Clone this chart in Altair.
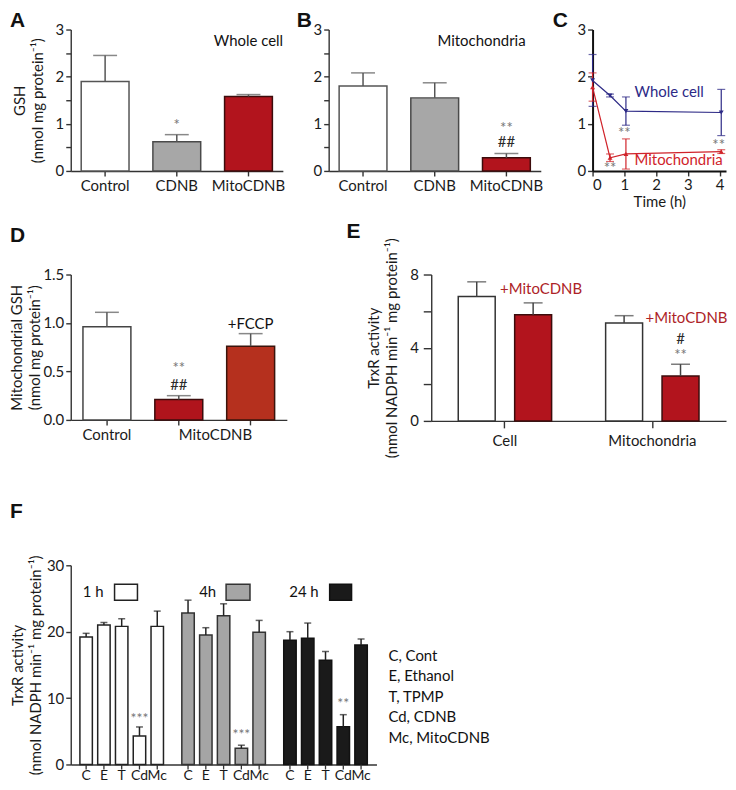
import altair as alt
import pandas as pd

FONT = "Lato"
LETTER_FONT = "Liberation Sans"

# ---------------- data ----------------
a_cat = ["Control", "CDNB", "MitoCDNB"]
a_mean = [1.90, 0.62, 1.58]
a_sem = [0.55, 0.15, 0.04]

b_cat = ["Control", "CDNB", "MitoCDNB"]
b_mean = [1.80, 1.55, 0.28]
b_sem = [0.28, 0.32, 0.09]

c_series = ["Whole cell", "Mitochondria"]
c_time = [0, 0.55, 1.05, 4.05]
c_whole = [1.92, 1.60, 1.27, 1.24]
c_whole_sem = [0.55, 0.03, 0.30, 0.49]
c_mito = [1.78, 0.28, 0.36, 0.41]
c_mito_sem = [0.30, 0.08, 0.32, 0.04]

d_cat = ["Control", "MitoCDNB", "MitoCDNB+FCCP"]
d_mean = [0.96, 0.21, 0.76]
d_sem = [0.15, 0.04, 0.13]

e_group = ["Cell", "Cell", "Mitochondria", "Mitochondria"]
e_treat = ["Control", "+MitoCDNB", "Control", "+MitoCDNB"]
e_mean = [6.8, 5.8, 5.35, 2.45]
e_sem = [0.8, 0.65, 0.4, 0.65]

f_time = ["1 h", "4h", "24 h"]
f_treat = ["C", "E", "T", "Cd", "Mc"]
f_1h = [19.2, 21.0, 20.8, 4.3, 20.8]
f_1h_sem = [0.55, 0.4, 1.15, 1.35, 2.3]
f_4h = [22.8, 19.5, 22.4, 2.45, 19.9]
f_4h_sem = [1.95, 1.1, 1.8, 0.45, 1.8]
f_24h = [18.7, 19.0, 15.7, 5.7, 18.0]
f_24h_sem = [1.3, 2.3, 1.3, 1.8, 0.9]
f_key = ["C, Cont", "E, Ethanol", "T, TPMP", "Cd, CDNB", "Mc, MitoCDNB"]

# ---------------- styles ----------------
RED = "#b2141d"
RED_STROKE = "#3c0c0c"
GREY = "#a7a7a7"
BLUE = "#2d2a86"
CRED = "#d0232a"
STAR = "#777777"
DARK = "#2a2a2a"
INT_LABELS = "datum.value % 1 == 0 ? format(datum.value, 'd') : ''"


def letter(ch, dx, dy):
    return alt.Chart(pd.DataFrame({"k": [0]})).mark_text(
        font=LETTER_FONT, fontWeight="bold", fontSize=21, align="left",
        baseline="alphabetic", color="#111"
    ).encode(text=alt.value(ch), x=alt.value(dx), y=alt.value(dy))


def note(df, x, y, text, color, size=15, dx=0, xo=None):
    enc = dict(x=x, y=y, text=text)
    if xo is not None:
        enc["xOffset"] = xo
    return alt.Chart(df).mark_text(font=FONT, fontSize=size, color=color, dx=dx,
                                   baseline="middle").encode(**enc)


def simple_bars(cats, mean, sem, fills, strokes, ymax, yvals, lab_expr, fmt,
                ytitle, pin, pout, title_pad, xaxis_kw=None):
    df = pd.DataFrame({"cat": cats, "mean": mean,
                       "hi": [m + s for m, s in zip(mean, sem)]})
    ax_kw = dict(labelAngle=0, tickSize=5, labelPadding=3, title=None)
    if xaxis_kw:
        ax_kw.update(xaxis_kw)
    x = alt.X("cat:N", sort=cats, title=None,
              scale=alt.Scale(type="band", paddingInner=pin, paddingOuter=pout),
              axis=alt.Axis(**ax_kw))
    y_kw = dict(values=yvals, title=ytitle, titlePadding=title_pad, tickSize=5, labelPadding=2)
    if lab_expr:
        y_kw["labelExpr"] = lab_expr
    if fmt:
        y_kw["format"] = fmt
    yax = alt.Axis(**y_kw)
    ysc = alt.Scale(domain=[0, ymax], nice=False)
    bars = alt.Chart(df).mark_bar(strokeWidth=1.5).encode(
        x=x, y=alt.Y("mean:Q", scale=ysc, axis=yax),
        fill=alt.Fill("cat:N", scale=alt.Scale(domain=cats, range=fills), legend=None),
        stroke=alt.Stroke("cat:N", scale=alt.Scale(domain=cats, range=strokes), legend=None),
    )
    err = alt.Chart(df).mark_rule(color="#555", strokeWidth=1.5).encode(
        x=x, y=alt.Y("mean:Q", scale=ysc, axis=yax), y2="hi:Q")
    cap = alt.Chart(df).mark_tick(color="#555", thickness=1.5, size=24).encode(
        x=x, y=alt.Y("hi:Q", scale=ysc, axis=yax))
    return df, x, ysc, yax, [bars, err, cap]


def indep(c):
    return c.resolve_scale(fill="independent", stroke="independent",
                           color="independent", shape="independent",
                           xOffset="independent")


# ---------------- Panel A ----------------
W_AB, H1 = 213, 142
dfA, xA, ysA, yaA, layA = simple_bars(
    a_cat, a_mean, a_sem, ["#ffffff", GREY, RED], ["#555555", "#4a4a4a", RED_STROKE],
    3, [0, 0.5, 1, 1.5, 2, 2.5, 3], INT_LABELS, None,
    ["GSH", "(nmol mg protein⁻¹)"], 0.333, 0.146, 10)
a_star = pd.DataFrame({"cat": ["CDNB"], "y": [0.98], "t": ["*"]})
a_lab = pd.DataFrame({"cat": ["MitoCDNB"], "y": [2.75], "t": ["Whole cell"]})
panelA = alt.layer(
    *layA,
    note(a_star, xA, alt.Y("y:Q", scale=ysA, axis=yaA), "t:N", STAR),
    note(a_lab, xA, alt.Y("y:Q", scale=ysA, axis=yaA), "t:N", "#111"),
    letter("A", -61, -3),
).properties(width=W_AB, height=H1)

# ---------------- Panel B ----------------
dfB, xB, ysB, yaB, layB = simple_bars(
    b_cat, b_mean, b_sem, ["#ffffff", GREY, RED], ["#555555", "#4a4a4a", RED_STROKE],
    3, [0, 0.5, 1, 1.5, 2, 2.5, 3], INT_LABELS, None,
    None, 0.333, 0.146, 10)
b_star = pd.DataFrame({"cat": ["MitoCDNB"], "y": [0.92], "t": ["**"]})
b_hash = pd.DataFrame({"cat": ["MitoCDNB"], "y": [0.61], "t": ["##"]})
b_lab = pd.DataFrame({"cat": ["MitoCDNB"], "y": [2.75], "t": ["Mitochondria"]})
panelB = alt.layer(
    *layB,
    note(b_star, xB, alt.Y("y:Q", scale=ysB, axis=yaB), "t:N", STAR),
    note(b_hash, xB, alt.Y("y:Q", scale=ysB, axis=yaB), "t:N", DARK),
    note(b_lab, xB, alt.Y("y:Q", scale=ysB, axis=yaB), "t:N", "#111", dx=-25),
    letter("B", -32, -3),
).properties(width=W_AB, height=H1)

# ---------------- Panel C ----------------
W_C = 134
dfC = pd.DataFrame({
    "t": c_time * 2,
    "v": c_whole + c_mito,
    "s": c_whole_sem + c_mito_sem,
    "series": [c_series[0]] * 4 + [c_series[1]] * 4,
})
dfC["lo"] = dfC["v"] - dfC["s"]
dfC["hi"] = dfC["v"] + dfC["s"]
xsC = alt.Scale(domain=[0, 4.2], nice=False)
xaC = alt.Axis(values=[0, 1, 2, 3, 4], title="Time (h)", tickSize=5, labelPadding=2,
               domainWidth=2, domainColor="#111", titlePadding=2)
ysC = alt.Scale(domain=[0, 3], nice=False)
yaC = alt.Axis(values=[0, 1, 2, 3], title=None, tickSize=5, labelPadding=2,
               domainWidth=2, domainColor="#111")
colC = alt.Color("series:N", scale=alt.Scale(domain=c_series, range=[BLUE, CRED]), legend=None)
xC = alt.X("t:Q", scale=xsC, axis=xaC)
c_line = alt.Chart(dfC).mark_line(strokeWidth=1.2).encode(
    x=xC, y=alt.Y("v:Q", scale=ysC, axis=yaC), color=colC)
c_pts = alt.Chart(dfC).mark_point(filled=True, size=24, opacity=1).encode(
    x=xC, y=alt.Y("v:Q", scale=ysC, axis=yaC), color=colC,
    shape=alt.Shape("series:N", scale=alt.Scale(domain=c_series, range=["triangle-down", "triangle-up"]), legend=None))
c_err = alt.Chart(dfC).mark_rule(strokeWidth=1.2).encode(
    x=xC, y=alt.Y("lo:Q", scale=ysC, axis=yaC), y2="hi:Q", color=colC)
c_cap_hi = alt.Chart(dfC).mark_tick(orient="horizontal", size=8, thickness=1.2).encode(
    x=xC, y=alt.Y("hi:Q", scale=ysC, axis=yaC), color=colC)
c_cap_lo = alt.Chart(dfC).mark_tick(orient="horizontal", size=8, thickness=1.2).encode(
    x=xC, y=alt.Y("lo:Q", scale=ysC, axis=yaC), color=colC)
c_labs = pd.DataFrame({"x": [1.32, 1.32], "y": [1.67, 0.23], "t": c_series})
c_lab = alt.Chart(c_labs).mark_text(font=FONT, fontSize=15, align="left", baseline="middle").encode(
    x=alt.X("x:Q", scale=xsC, axis=xaC), y=alt.Y("y:Q", scale=ysC, axis=yaC), text="t:N",
    color=alt.Color("t:N", scale=alt.Scale(domain=c_series, range=[BLUE, CRED]), legend=None))
c_stars = pd.DataFrame({"x": [0.55, 1.0, 3.97], "y": [0.06, 0.8, 0.55], "t": ["**", "**", "**"]})
c_star = alt.Chart(c_stars).mark_text(font=FONT, fontSize=15, color=STAR, baseline="middle").encode(
    x=alt.X("x:Q", scale=xsC, axis=xaC), y=alt.Y("y:Q", scale=ysC, axis=yaC), text="t:N")
panelC = alt.layer(c_line, c_err, c_cap_hi, c_cap_lo, c_pts, c_lab, c_star,
                   letter("C", -40, -3)).properties(width=W_C, height=H1)

# ---------------- Panel D ----------------
W_D, H_D = 217, 146
dfD, xD, ysD, yaD, layD = simple_bars(
    d_cat, d_mean, d_sem, ["#ffffff", "#b0141c", "#b5301e"], ["#444444", RED_STROKE, "#3a140c"],
    1.5, [0, 0.5, 1.0, 1.5], None, ".1f",
    ["Mitochondrial GSH", "(nmol mg protein⁻¹)"], 0.333, 0.17, 0,
    xaxis_kw=dict(
        labelExpr="datum.value == 'Control' ? 'Control' : (datum.value == 'MitoCDNB' ? 'MitoCDNB' : '')",
        labelAlign={"condition": {"test": "datum.value == 'MitoCDNB'", "value": "left"}, "value": "center"},
    ))
d_star = pd.DataFrame({"cat": ["MitoCDNB"], "y": [0.54], "t": ["**"]})
d_hash = pd.DataFrame({"cat": ["MitoCDNB"], "y": [0.36], "t": ["##"]})
d_lab = pd.DataFrame({"cat": ["MitoCDNB+FCCP"], "y": [0.99], "t": ["+FCCP"]})
panelD = alt.layer(
    *layD,
    note(d_star, xD, alt.Y("y:Q", scale=ysD, axis=yaD), "t:N", STAR),
    note(d_hash, xD, alt.Y("y:Q", scale=ysD, axis=yaD), "t:N", DARK),
    note(d_lab, xD, alt.Y("y:Q", scale=ysD, axis=yaD), "t:N", "#111"),
    letter("D", -61, -33),
).properties(width=W_D, height=H_D)

# ---------------- Panel E ----------------
W_E, H_E = 296, 147
e_groups = ["Cell", "Mitochondria"]
e_treats = ["Control", "+MitoCDNB"]
dfE = pd.DataFrame({"g": e_group, "tr": e_treat, "mean": e_mean,
                    "hi": [m + s for m, s in zip(e_mean, e_sem)]})
xE = alt.X("g:N", sort=e_groups, title=None,
           scale=alt.Scale(type="band", paddingInner=0.2, paddingOuter=0.1),
           axis=alt.Axis(labelAngle=0, tickSize=7, labelPadding=6))
xoE = alt.XOffset("tr:N", sort=e_treats,
                  scale=alt.Scale(type="band", paddingInner=0.345, paddingOuter=0.2175))
ysE = alt.Scale(domain=[0, 8], nice=False)
yaE = alt.Axis(values=[0, 2, 4, 6, 8], labelExpr="datum.value % 4 == 0 ? datum.label : ''",
               title=["TrxR activity", "(nmol NADPH min⁻¹ mg protein⁻¹)"], titlePadding=10,
               tickSize=8, labelPadding=5)
e_bars = alt.Chart(dfE).mark_bar(strokeWidth=1.5).encode(
    x=xE, xOffset=xoE, y=alt.Y("mean:Q", scale=ysE, axis=yaE),
    fill=alt.Fill("tr:N", scale=alt.Scale(domain=e_treats, range=["#ffffff", RED]), legend=None),
    stroke=alt.Stroke("tr:N", scale=alt.Scale(domain=e_treats, range=["#333333", RED_STROKE]), legend=None))
e_err = alt.Chart(dfE).mark_rule(color="#444", strokeWidth=1.5).encode(
    x=xE, xOffset=xoE, y=alt.Y("mean:Q", scale=ysE, axis=yaE), y2="hi:Q")
e_cap = alt.Chart(dfE).mark_tick(color="#444", thickness=1.5, size=19).encode(
    x=xE, xOffset=xoE, y=alt.Y("hi:Q", scale=ysE, axis=yaE))
e_lab1 = pd.DataFrame({"g": ["Cell"], "tr": ["+MitoCDNB"], "y": [7.2], "t": ["+MitoCDNB"]})
e_lab2 = pd.DataFrame({"g": ["Mitochondria"], "tr": ["+MitoCDNB"], "y": [5.6], "t": ["+MitoCDNB"]})
e_hash = pd.DataFrame({"g": ["Mitochondria"], "tr": ["+MitoCDNB"], "y": [4.5], "t": ["#"]})
e_star = pd.DataFrame({"g": ["Mitochondria"], "tr": ["+MitoCDNB"], "y": [3.6], "t": ["**"]})
yE_note = alt.Y("y:Q", scale=ysE, axis=yaE)
panelE = alt.layer(
    e_bars, e_err, e_cap,
    note(e_lab1, xE, yE_note, "t:N", "#ad2327", dx=8, xo=xoE),
    note(e_lab2, xE, yE_note, "t:N", "#ad2327", dx=6, xo=xoE),
    note(e_hash, xE, yE_note, "t:N", DARK, xo=xoE),
    note(e_star, xE, yE_note, "t:N", STAR, xo=xoE),
    letter("E", -85, -37),
).properties(width=W_E, height=H_E)

# ---------------- Panel F ----------------
W_F, H_F = 307, 200
dfF = pd.DataFrame({
    "time": sum([[t] * 5 for t in f_time], []),
    "tr": f_treat * 3,
    "mean": f_1h + f_4h + f_24h,
    "sem": f_1h_sem + f_4h_sem + f_24h_sem,
})
dfF["hi"] = dfF["mean"] + dfF["sem"]
f_fills = ["#ffffff", "#a5a5a5", "#1a1a1a"]
f_strokes = ["#222222", "#333333", "#111111"]
xF = alt.X("time:N", sort=f_time, title=None,
           scale=alt.Scale(type="band", paddingInner=0.18, paddingOuter=0.09),
           axis=alt.Axis(labels=False, ticks=False, title=None))
xoF = alt.XOffset("tr:N", sort=f_treat,
                  scale=alt.Scale(type="band", paddingInner=0.30, paddingOuter=0))
ysF = alt.Scale(domain=[0, 30], nice=False)
yaF = alt.Axis(values=[0, 10, 20, 30], title=["TrxR activity", "(nmol NADPH min⁻¹ mg protein⁻¹)"],
               titlePadding=3, tickSize=5, labelPadding=2)
f_bars = alt.Chart(dfF).mark_bar(strokeWidth=1.5).encode(
    x=xF, xOffset=xoF, y=alt.Y("mean:Q", scale=ysF, axis=yaF),
    fill=alt.Fill("time:N", scale=alt.Scale(domain=f_time, range=f_fills), legend=None),
    stroke=alt.Stroke("time:N", scale=alt.Scale(domain=f_time, range=f_strokes), legend=None))
f_err = alt.Chart(dfF).mark_rule(color="#222", strokeWidth=1.5).encode(
    x=xF, xOffset=xoF, y=alt.Y("mean:Q", scale=ysF, axis=yaF), y2="hi:Q")
f_cap = alt.Chart(dfF).mark_tick(color="#222", thickness=1.5, size=7).encode(
    x=xF, xOffset=xoF, y=alt.Y("hi:Q", scale=ysF, axis=yaF))
f_ticks = alt.Chart(dfF).mark_rule(color="#333", strokeWidth=1.3).encode(
    x=xF, xOffset=xoF, y=alt.value(H_F), y2=alt.value(H_F + 5))
f_xlab = alt.Chart(dfF).mark_text(font=FONT, fontSize=14, baseline="top", color="#1a1a1a").encode(
    x=xF, xOffset=xoF, y=alt.value(H_F + 5), text="tr:N")
f_stars_df = pd.DataFrame({"time": f_time, "tr": ["Cd", "Cd", "Cd"], "y": [6.9, 4.4, 9.1],
                           "t": ["***", "***", "**"]})
f_stars = note(f_stars_df, xF, alt.Y("y:Q", scale=ysF, axis=yaF), "t:N", STAR, size=14, xo=xoF)

leg_layers = []
leg_box_x = [(44, 67), (156, 180), (260, 282)]
leg_txt_x = [33, 146, 249]
for i, t in enumerate(f_time):
    one = pd.DataFrame({"t": [t]})
    leg_layers.append(alt.Chart(one).mark_rect(fill=f_fills[i], stroke=f_strokes[i], strokeWidth=1.5).encode(
        x=alt.value(leg_box_x[i][0]), x2=alt.value(leg_box_x[i][1]), y=alt.value(19), y2=alt.value(35)))
    leg_layers.append(alt.Chart(one).mark_text(font=FONT, fontSize=15, align="right", baseline="middle",
                                               color="#111").encode(
        x=alt.value(leg_txt_x[i]), y=alt.value(27), text="t:N"))
f_key_txt = alt.Chart(pd.DataFrame({"k": [0]})).mark_text(
    font=FONT, fontSize=15, align="left", baseline="top", lineHeight=20.5, color="#111"
).encode(x=alt.value(319), y=alt.value(84), text=alt.value(f_key))

panelF = alt.layer(f_bars, f_err, f_cap, f_ticks, f_xlab, f_stars, *leg_layers, f_key_txt,
                   letter("F", -61, -47)).properties(width=W_F, height=H_F)

# ---------------- layout ----------------
row1 = indep(alt.hconcat(indep(alt.hconcat(panelA, panelB, spacing=12)), panelC, spacing=10))
row2 = indep(alt.hconcat(panelD, panelE, spacing=60))
top = indep(alt.vconcat(row1, row2, spacing=11))
chart = indep(alt.vconcat(top, panelF, spacing=43)).properties(
    padding={"left": 2, "top": 0, "right": 0, "bottom": 0}
).configure_view(
    stroke=None
).configure_axis(
    labelFont=FONT, titleFont=FONT, labelFontSize=15, titleFontSize=15, titleFontWeight="normal",
    labelColor="#1a1a1a", titleColor="#1a1a1a", domainColor="#333333", tickColor="#333333",
    domainWidth=1.4, tickWidth=1.4, grid=False, titleLineHeight=18
)

chart.save("out.html", embed_options={"renderer": "svg", "actions": False})
